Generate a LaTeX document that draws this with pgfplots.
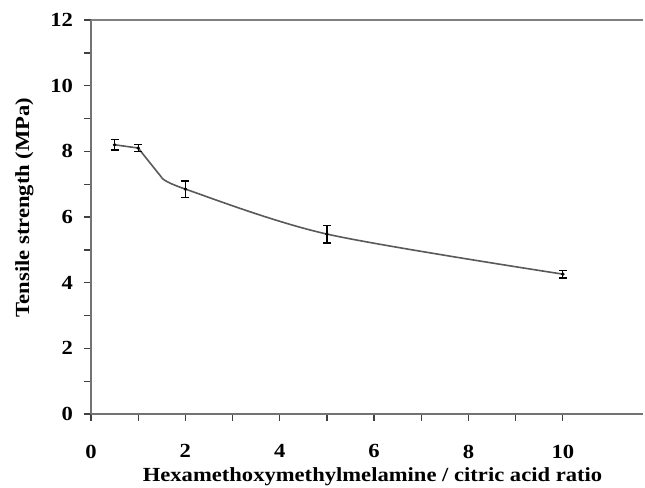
\documentclass[border=0pt]{standalone}
\usepackage{pgfplots}
\pgfplotsset{compat=1.18}
\usepackage{fontspec}
\setmainfont{Liberation Serif}[FakeStretch=1.13]
\begin{document}
\begin{tikzpicture}
\begin{axis}[
  at={(0,0)}, anchor=south west,
  scale only axis,
  width=414pt, height=295.5pt,
  xmin=0, xmax=11.7, ymin=0, ymax=12,
  axis lines=left,
  axis line style={-, draw=black!55, line width=1.2pt},
  xtick={0,2,4,6,8,10}, ytick={0,2,4,6,8,10,12},
  minor xtick={1,3,5,7,9}, minor ytick={1,3,5,7,9,11},
  tick align=outside,
  tick style={black!75, line width=1pt},
  major tick length=5pt, minor tick length=5pt,
  /pgf/number format/assume math mode=true,
  ticklabel style={font=\fontsize{15}{17}\selectfont\bfseries},
  yticklabel style={xshift=-5pt},
  xticklabel style={yshift=-14.5pt},
  xlabel={Hexamethoxymethylmelamine / citric acid ratio},
  ylabel={Tensile strength (MPa)},
  label style={font=\fontsize{15}{17}\selectfont\bfseries},
  xlabel style={at={(axis description cs:0.51,0)}, anchor=north, yshift=-36.5pt},
  ylabel style={at={(axis description cs:0,0.524)}, anchor=center, yshift=50pt},
  clip=false,
]
\draw[black!50, line width=1.1pt] (axis cs:0,12) -- (axis cs:11.7,12);
\addplot[black!65, line width=1.2pt, sharp plot, no marks] coordinates {
(0.5,8.2) (1,8.1) (1.5,7.2)};
\addplot[black!65, line width=1.2pt, smooth, tension=0.5, no marks] coordinates {
(1.5,7.2) (2,6.85) (5,5.48) (10,4.26)};
\addplot[black, only marks, mark=*, mark size=1.1pt,
  error bars/.cd, y dir=both, y explicit, error mark options={rotate=90, mark size=3pt, line width=1pt},
  error bar style={line width=1pt}]
 coordinates {
(0.5,8.2) +- (0,0.16)
(1,8.1) +- (0,0.11)
(2,6.85) +- (0,0.25)
(5,5.48) +- (0,0.27)
(10,4.26) +- (0,0.12)};
\end{axis}
\pgfresetboundingbox
\path[use as bounding box] (-68.25pt,-54.75pt) rectangle (415.5pt,310.5pt);
\end{tikzpicture}
\end{document}
